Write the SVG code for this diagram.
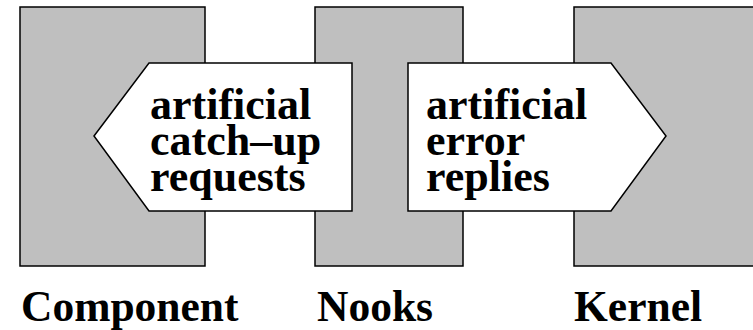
<svg xmlns="http://www.w3.org/2000/svg" width="753" height="330" viewBox="0 0 753 330">
  <style>
    .block { fill: #bfbfbf; stroke: #000; stroke-width: 1.5; }
    .flow { fill: #fff; stroke: #000; stroke-width: 1.5; stroke-linejoin: miter; }
    .txt { font-family: "Liberation Serif", "Times New Roman", serif; font-weight: bold; fill: #000; }
    .inner { font-size: 44px; }
    .label { font-size: 43.5px; }
  </style>
  <rect width="753" height="330" fill="#fff"/>

  <g id="component">
    <rect class="block" x="20" y="7" width="185" height="259"/>
    <text class="txt label" x="21" y="321">Component</text>
  </g>
  <g id="nooks">
    <rect class="block" x="315" y="7" width="148" height="259"/>
    <text class="txt label" x="317" y="321">Nooks</text>
  </g>
  <g id="kernel">
    <rect class="block" x="574" y="7" width="190" height="259"/>
    <text class="txt label" x="574" y="321">Kernel</text>
  </g>

  <g id="connectors">
    <g id="catchup-requests">
      <polygon class="flow" points="94,136 149,63 352,63 352,211 149,211"/>
      <text class="txt inner" x="150" y="118.5">artificial</text>
      <text class="txt inner" x="150" y="155">catch–up</text>
      <text class="txt inner" x="150" y="191">requests</text>
    </g>
    <g id="error-replies">
      <polygon class="flow" points="408,63 611,63 666,136 611,211 408,211"/>
      <text class="txt inner" x="426" y="118.5">artificial</text>
      <text class="txt inner" x="426" y="155">error</text>
      <text class="txt inner" x="426" y="191">replies</text>
    </g>
  </g>
</svg>
